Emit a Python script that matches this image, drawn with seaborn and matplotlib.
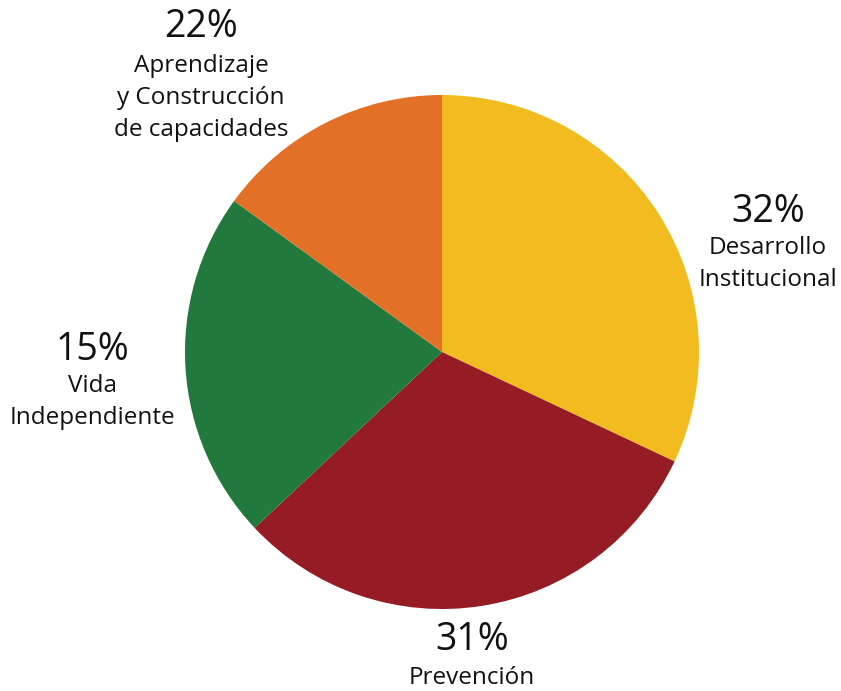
"""
Distribución por área - gráfico de pastel
"""

import matplotlib.pyplot as plt
import seaborn as sns

# datos
areas = ['Desarrollo\nInstitucional', 'Prevención', 'Vida\nIndependiente',
         'Aprendizaje\ny Construcción\nde capacidades']
valores = [32, 31, 22, 15]                  # tamaño de cada porción
etiquetas_pct = ['32%', '31%', '15%', '22%']  # texto tal como aparece
colores = ['#F2BC21', '#951B24', '#22793D', '#E37027']

sns.set_theme(style='white')
plt.rcParams['font.family'] = ['Open Sans', 'DejaVu Sans']

W, H = 841, 691
CX, CY, R = 442, 352, 257  # centro y radio en píxeles

fig = plt.figure(figsize=(W / 100, H / 100), dpi=100)
ax = fig.add_axes([0, 0, 1, 1])

ax.pie(valores, colors=colores, startangle=90, counterclock=False,
       radius=1, center=(0, 0), wedgeprops=dict(linewidth=0))

ax.set_xlim(-CX / R, (W - CX) / R)
ax.set_ylim(-(H - CY) / R, CY / R)
ax.set_aspect('equal')
ax.axis('off')

# posiciones de las etiquetas (píxeles: x, y del porcentaje, y del centro del nombre)
pos = [(768, 212, 264), (472, 640, 678), (92, 350, 402), (201, 27, 98)]


def px(x, y):
    return (x - CX) / R, (CY - y) / R


for pct, nombre, (x, ypct, ytxt) in zip(etiquetas_pct, areas, pos):
    ax.text(*px(x, ypct), pct, ha='center', va='center', fontsize=27, color='#111111')
    ax.text(*px(x, ytxt), nombre, ha='center', va='center', fontsize=17.5,
            linespacing=1.42, color='#111111')

fig.savefig('out.png', dpi=100)
